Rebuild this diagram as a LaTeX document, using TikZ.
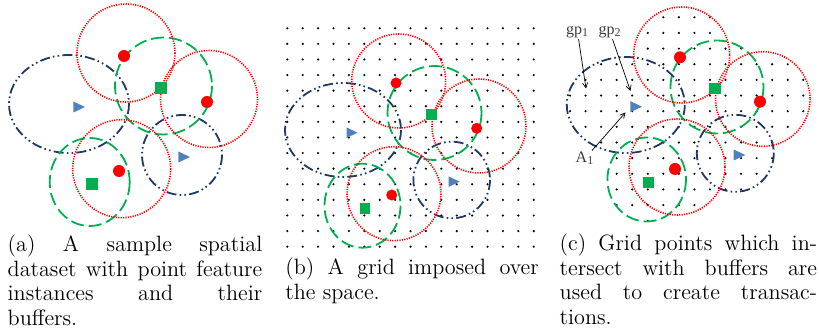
\documentclass[tikz,border=0pt]{standalone}
\usepackage{fontspec}
\newfontfamily\tms{Liberation Serif}
\usetikzlibrary{arrows.meta}
\definecolor{redc}{RGB}{255,0,0}
\definecolor{greenc}{RGB}{0,176,80}
\definecolor{bluec}{RGB}{31,56,100}
\definecolor{bluem}{RGB}{79,129,189}
\definecolor{labc}{RGB}{60,60,60}
\newcommand\capfont{\fontsize{11.1pt}{12.3pt}\selectfont}
\newcommand\labfont{\tms\fontsize{8pt}{9pt}\selectfont}
\tikzset{
  redbuf/.style={draw=redc, line width=0.8pt, dash pattern=on 0.6pt off 0.6pt},
  greenbuf/.style={draw=greenc, line width=0.9pt, dash pattern=on 6.5pt off 2.5pt},
  bluebuf/.style={draw=bluec, line width=0.9pt, dash pattern=on 5pt off 1.6pt on 0.8pt off 1.6pt on 0.8pt off 1.6pt},
  reddot/.style={circle, fill=redc, inner sep=0pt, minimum size=6pt},
  greensq/.style={rectangle, fill=greenc, inner sep=0pt, minimum size=5.7pt},
  capline/.style={anchor=base west, inner sep=0pt, font=\capfont},
  lab/.style={font=\labfont, text=labc, inner sep=0.5pt},
  ptr/.style={-{Straight Barb[length=2.5pt,width=2.6pt]}, line width=0.35pt, black},
  tri/.pic={\fill[bluem] (-4.6,-5.5) -- (7,0) -- (-4.6,5.5) -- cycle;}
}
\begin{document}
\begin{tikzpicture}[x=0.5pt,y=-0.5pt]
\useasboundingbox (0,0) rectangle (819,335);

% ---------------- panel (a)
\draw[bluebuf] (69,104) ellipse [x radius=60, y radius=49];
\draw[bluebuf] (182,155) circle [radius=40];
\draw[greenbuf] (163.5,86) circle [radius=48.5];
\draw[greenbuf] (89.7,182) ellipse [x radius=40, y radius=44];
\draw[redbuf] (126,53) circle [radius=49];
\draw[redbuf] (209,99) circle [radius=48.5];
\draw[redbuf] (121.7,168.7) circle [radius=49];
\node[reddot] (ra1) at (124,56) {};
\node[reddot] (ra2) at (207,102) {};
\node[reddot] (ra3) at (119,171) {};
\node[greensq] (ga1) at (161,88) {};
\node[greensq] (ga2) at (92,184) {};
\pic at (78,107) {tri};
\pic at (183,157) {tri};

% ---------------- panel (b)
\foreach \i in {0,...,16}{
  \foreach \j in {0,...,14}{
    \fill (287.3+15.4*\i, 28.3+15.6*\j) circle [radius=1.2];
  }
}
\draw[bluebuf] (343,130) ellipse [x radius=58, y radius=47];
\draw[bluebuf] (451.7,180) circle [radius=38.3];
\draw[greenbuf] (434.5,113) circle [radius=47];
\draw[greenbuf] (362.5,205.7) ellipse [x radius=38, y radius=42];
\draw[redbuf] (398.7,81) circle [radius=47];
\draw[redbuf] (479,126) circle [radius=47];
\draw[redbuf] (394,193.7) circle [radius=47];
\node[reddot, minimum size=5.5pt] (rb1) at (396,83) {};
\node[reddot, minimum size=5.5pt] (rb2) at (476.7,128.3) {};
\node[reddot, minimum size=5.5pt] (rb3) at (391.7,195) {};
\node[greensq, minimum size=5.3pt] (gb1) at (431.7,114.3) {};
\node[greensq, minimum size=5.3pt] (gb2) at (365,208.3) {};
\pic[scale=0.95] at (351,132.7) {tri};
\pic[scale=0.95] at (453,181.7) {tri};

% ---------------- panel (c)
\foreach \i in {0,...,15}{
  \foreach \j in {0,...,13}{
    \pgfmathsetmacro\px{570+15.55*\i}
    \pgfmathsetmacro\py{17.3+15.65*\j}
    \pgfmathparse{min(((\px-681.7)/48)^2+((\py-55)/48)^2,
                       ((\px-717)/46.5)^2+((\py-87)/46.5)^2,
                       ((\px-762.8)/47.3)^2+((\py-99)/47.3)^2,
                       ((\px-625.8)/59)^2+((\py-105)/48)^2,
                       ((\px-735.3)/38.5)^2+((\py-153.3)/38.5)^2,
                       ((\px-677)/48)^2+((\py-167)/48)^2,
                       ((\px-646.7)/39.3)^2+((\py-179.5)/42)^2)}
    \ifdim\pgfmathresult pt<1pt
      \fill (\px,\py) circle [radius=1.2];
    \fi
  }
}
\draw[bluebuf] (625.8,105) ellipse [x radius=59, y radius=48];
\draw[bluebuf] (735.3,153.3) circle [radius=38.5];
\draw[greenbuf] (717,87) circle [radius=46.5];
\draw[greenbuf] (646.7,179.5) ellipse [x radius=39.3, y radius=42];
\draw[redbuf] (681.7,55) circle [radius=48];
\draw[redbuf] (762.8,99) circle [radius=47.3];
\draw[redbuf] (677,167) circle [radius=48];
\node[reddot] (rc1) at (680,57.3) {};
\node[reddot] (rc2) at (760,101.7) {};
\node[reddot] (rc3) at (675,169) {};
\node[greensq] (gc1) at (715,88.3) {};
\node[greensq] (gc2) at (648.3,182.3) {};
\pic at (635,106.7) {tri};
\pic at (738.3,155) {tri};

\node[lab] (gp1) at (577.5,32) {gp\textsubscript{1}};
\node[lab] (gp2) at (610,32) {gp\textsubscript{2}};
\node[lab] (A1) at (585,158.5) {A\textsubscript{1}};
\coordinate (t1) at (586,88.5);
\coordinate (t2) at (630.5,91);
\coordinate (t3) at (625.5,112.5);
\draw[ptr] (gp1) -- (t1);
\draw[ptr] (gp2) -- (t2);
\draw[ptr] (A1) -- (t3);

% ---------------- captions
\node[capline] (ca1) at (7.3,251.7) {\makebox[127.3pt][s]{(a) A sample spatial}};
\node[capline] (ca2) at (7.3,276.3) {\makebox[127.3pt][s]{dataset with point feature}};
\node[capline] (ca3) at (7.3,300.9) {\makebox[127.3pt][s]{instances and their}};
\node[capline] (ca4) at (7.3,325.5) {buffers.};

\node[capline] (cb1) at (285,275) {\makebox[126.7pt][s]{(b) A grid imposed over}};
\node[capline] (cb2) at (285,299.6) {the space.};

\node[capline] (cc1) at (559.3,250.5) {\makebox[128.7pt][s]{(c) Grid points which in-}};
\node[capline] (cc2) at (559.3,275.1) {\makebox[128.7pt][s]{tersect with buffers are}};
\node[capline] (cc3) at (559.3,299.7) {\makebox[128.7pt][s]{used to create transac-}};
\node[capline] (cc4) at (559.3,324.3) {tions.};
\end{tikzpicture}
\end{document}
